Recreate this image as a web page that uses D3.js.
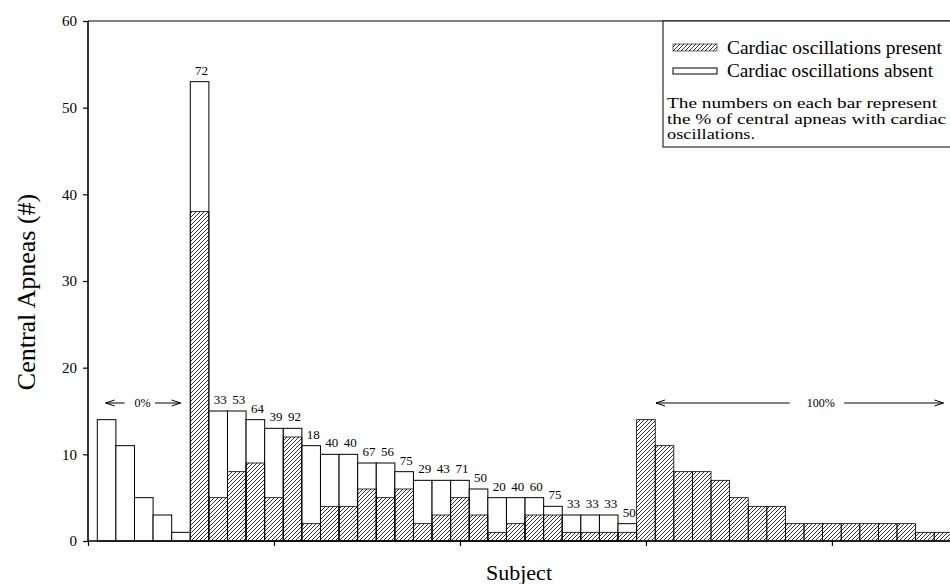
<!DOCTYPE html>
<html>
<head>
<meta charset="utf-8">
<script src="https://cdn.jsdelivr.net/npm/d3@7"></script>
<style>
  body { margin: 0; background: #fff; }
  svg { display: block; }
  text { font-family: "Liberation Serif", "Times New Roman", serif; fill: #000; }
</style>
</head>
<body>
<svg id="chart" width="950" height="584"></svg>
<script>
// Central apneas per subject, split by presence of cardiac oscillations
const subjects = d3.range(1, 47);
const totalApneas = [14, 11, 5, 3, 1,
  53, 15, 15, 14, 13, 13, 11, 10, 10, 9, 9, 8, 7, 7, 7, 6, 5, 5, 5, 4, 3, 3, 3, 2,
  14, 11, 8, 8, 7, 5, 4, 4, 2, 2, 2, 2, 2, 2, 2, 1, 1];
const presentApneas = [0, 0, 0, 0, 0,
  38, 5, 8, 9, 5, 12, 2, 4, 4, 6, 5, 6, 2, 3, 5, 3, 1, 2, 3, 3, 1, 1, 1, 1,
  14, 11, 8, 8, 7, 5, 4, 4, 2, 2, 2, 2, 2, 2, 2, 1, 1];
// Percent of central apneas with cardiac oscillations, printed above subjects 6-29
const pctSubjects = d3.range(6, 30);
const pctLabels = ["72", "33", "53", "64", "39", "92", "18", "40", "40", "67", "56", "75",
  "29", "43", "71", "50", "20", "40", "60", "75", "33", "33", "33", "50"];
const yTicks = [0, 10, 20, 30, 40, 50, 60];
const xTicks = [0, 10, 20, 30, 40];
const legendItems = ["Cardiac oscillations present", "Cardiac oscillations absent"];
const noteLines = ["The numbers on each bar represent",
  "the % of central apneas with cardiac",
  "oscillations."];

const svg = d3.select("#chart");
const x = d3.scaleLinear().domain([0, 46.35]).range([88, 950]);
const y = d3.scaleLinear().domain([0, 60]).range([541, 21]);
const bw = x(1) - x(0);

// diagonal hatch for "present"
const defs = svg.append("defs");
defs.append("pattern")
  .attr("id", "hatch")
  .attr("patternUnits", "userSpaceOnUse")
  .attr("width", 4).attr("height", 4)
  .append("path")
  .attr("d", "M-1,1 l2,-2 M0,4 l4,-4 M3,5 l2,-2")
  .attr("stroke", "#000").attr("stroke-width", 0.8);

const rows = subjects.map((s, i) => ({
  s, total: totalApneas[i], present: presentApneas[i]
}));

const bars = svg.append("g");
// white "absent" part spans the full bar, hatched part drawn on top from zero
bars.selectAll("rect.absent").data(rows.filter(d => d.total > d.present)).join("rect")
  .attr("class", "absent")
  .attr("x", d => x(d.s - 0.5)).attr("width", bw)
  .attr("y", d => y(d.total)).attr("height", d => y(0) - y(d.total))
  .attr("fill", "#fff").attr("stroke", "#000").attr("stroke-width", 1);
bars.selectAll("rect.present").data(rows.filter(d => d.present > 0)).join("rect")
  .attr("class", "present")
  .attr("x", d => x(d.s - 0.5)).attr("width", bw)
  .attr("y", d => y(d.present)).attr("height", d => y(0) - y(d.present))
  .attr("fill", "url(#hatch)").attr("stroke", "#000").attr("stroke-width", 0.8);

// percentage labels
svg.append("g").selectAll("text").data(pctSubjects).join("text")
  .attr("x", (s) => x(s) + 2)
  .attr("y", (s) => y(totalApneas[s - 1]) - 7)
  .attr("text-anchor", "middle")
  .attr("font-size", 13)
  .text((s, i) => pctLabels[i]);

// axes
const yAxis = svg.append("g").attr("transform", `translate(${x(0)},0)`)
  .call(d3.axisLeft(y).tickValues(yTicks).tickSize(5).tickPadding(6));
yAxis.select(".domain").attr("stroke-width", 1.6).attr("d", `M0,${y(60)}V${y(0)}`);
yAxis.selectAll("text").attr("font-size", 15).attr("font-family", "Liberation Serif");
yAxis.selectAll("line").attr("stroke-width", 1.2);

const xAxis = svg.append("g").attr("transform", `translate(0,${y(0)})`)
  .call(d3.axisBottom(x).tickValues(xTicks).tickSize(5).tickFormat(""));
xAxis.select(".domain").attr("stroke-width", 1.6).attr("d", `M${x(0)},0H950`);
xAxis.selectAll("line").attr("stroke-width", 1.2);

// top frame line
svg.append("line").attr("x1", x(0)).attr("x2", 950).attr("y1", y(60)).attr("y2", y(60))
  .attr("stroke", "#000").attr("stroke-width", 1.2);

// axis titles
svg.append("text").attr("transform", `translate(35,292) rotate(-90)`)
  .attr("text-anchor", "middle").attr("font-size", 26).text("Central Apneas (#)");
svg.append("text").attr("x", 519).attr("y", 580).attr("text-anchor", "middle")
  .attr("font-size", 22).text("Subject");

// range annotations
function arrowLine(g, x1, x2, yy, head) {
  g.append("line").attr("x1", x1).attr("x2", x2).attr("y1", yy).attr("y2", yy)
    .attr("stroke", "#000").attr("stroke-width", 1);
  const tip = head === "left" ? x1 : x2;
  const dir = head === "left" ? 1 : -1;
  g.append("path")
    .attr("d", `M${tip + dir * 9},${yy - 3}L${tip},${yy}L${tip + dir * 9},${yy + 3}`)
    .attr("fill", "none").attr("stroke", "#000").attr("stroke-width", 1);
}
const ann = svg.append("g");
const annY = 403;
arrowLine(ann, x(0.95), x(1.97), annY, "left");
arrowLine(ann, x(3.6), x(4.98), annY, "right");
ann.append("text").attr("x", x(2.93)).attr("y", annY + 4).attr("text-anchor", "middle")
  .attr("font-size", 12).text("0%");
arrowLine(ann, x(30.54), x(37.73), annY, "left");
arrowLine(ann, x(40.66), x(46.0), annY, "right");
ann.append("text").attr("x", x(39.4)).attr("y", annY + 4).attr("text-anchor", "middle")
  .attr("font-size", 12).text("100%");

// legend
const lg = svg.append("g");
lg.append("rect").attr("x", 663).attr("y", y(60)).attr("width", 300).attr("height", 126)
  .attr("fill", "#fff").attr("stroke", "#000").attr("stroke-width", 1);
lg.append("rect").attr("x", 673).attr("y", 44).attr("width", 44).attr("height", 7)
  .attr("fill", "url(#hatch)").attr("stroke", "#000").attr("stroke-width", 0.6);
lg.append("rect").attr("x", 673).attr("y", 68).attr("width", 44).attr("height", 6)
  .attr("fill", "#fff").attr("stroke", "#000").attr("stroke-width", 1);
lg.selectAll("text.item").data(legendItems).join("text")
  .attr("class", "item")
  .attr("x", 727).attr("y", (d, i) => 54 + i * 23)
  .attr("font-size", 18)
  .attr("textLength", (d, i) => [215, 206][i]).attr("lengthAdjust", "spacingAndGlyphs")
  .text(d => d);
lg.selectAll("text.note").data(noteLines).join("text")
  .attr("class", "note")
  .attr("x", 667).attr("y", (d, i) => 108 + i * 15.5)
  .attr("font-size", 14)
  .attr("textLength", (d, i) => [270, 279, 88][i])
  .attr("lengthAdjust", "spacingAndGlyphs")
  .text(d => d);
</script>
</body>
</html>
